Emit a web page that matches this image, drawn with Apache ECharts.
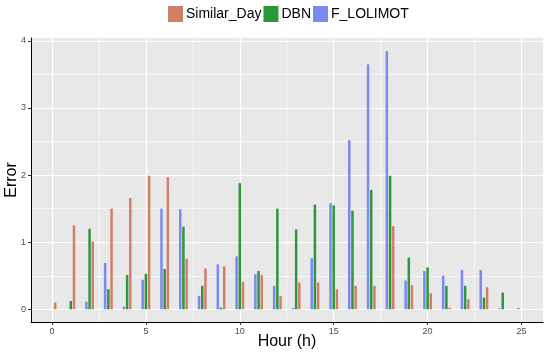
<!DOCTYPE html>
<html><head><meta charset="utf-8">
<script src="https://cdn.jsdelivr.net/npm/echarts@6/dist/echarts.min.js"></script>
<style>html,body{margin:0;padding:0;background:#fff}#c{width:550px;height:352px}</style>
</head><body><div id="c"></div>
<script>
const hours = [0,1,2,3,4,5,6,7,8,9,10,11,12,13,14,15,16,17,18,19,20,21,22,23,24,25];
const similarDay = [0.1,1.25,1.01,1.5,1.66,1.99,1.97,0.75,0.61,0.64,0.41,0.51,0.2,0.4,0.4,0.3,0.35,0.35,1.24,0.36,0.24,0.025,0.15,0.33,null,null];
const dbn = [null,0.125,1.2,0.3,0.51,0.53,0.6,1.23,0.35,0.025,1.88,0.57,1.5,1.19,1.56,1.55,1.47,1.78,1.99,0.77,0.625,0.35,0.35,0.175,0.25,null];
const fLolimot = [null,null,0.115,0.69,0.04,0.44,1.5,1.49,0.2,0.67,0.79,0.525,0.35,0.02,0.76,1.58,2.52,3.65,3.85,0.43,0.57,0.5,0.585,0.585,0.015,0.02];
const xTicks = [0,5,10,15,20,25];
const yTicks = [0,1,2,3,4];
const xMinor = [2.5,7.5,12.5,17.5,22.5];
const yMinor = [0.5,1.5,2.5,3.5];

const font = '"Liberation Sans", Arial, sans-serif';
const pairs = arr => hours.map((h,i)=> arr[i]==null ? [h,'-'] : [h,arr[i]]);

const majorStyle = {color:'#ffffff', width:1.2, type:'solid'};
const minorStyle = {color:'#ffffff', width:0.6, type:'solid'};
const gridMarks = []
  .concat(xMinor.map(v=>({xAxis:v, lineStyle:minorStyle})))
  .concat(yMinor.map(v=>({yAxis:v, lineStyle:minorStyle})))
  .concat(xTicks.map(v=>({xAxis:v, lineStyle:majorStyle})))
  .concat(yTicks.map(v=>({yAxis:v, lineStyle:majorStyle})));

const chart = echarts.init(document.getElementById('c'));
chart.setOption({
  animation:false,
  textStyle:{fontFamily:font},
  legend:{
    top:6, left:168, padding:0, itemWidth:15, itemHeight:16, itemGap:2,
    icon:'rect',
    data:['Similar_Day','DBN','F_LOLIMOT'],
    textStyle:{fontSize:14, color:'#000', fontFamily:font, padding:[0,0,0,-2]}
  },
  grid:{left:31, right:7, top:38, bottom:30, show:true, backgroundColor:'#E8E8E8', borderWidth:0, outerBoundsMode:'none', containLabel:false},
  xAxis:{
    type:'value', min:-1.118, max:26.145,
    name:'Hour (h)', nameLocation:'middle', nameGap:12, nameMoveOverlap:false,
    nameTextStyle:{fontSize:16, color:'#000', fontFamily:font},
    axisLine:{show:true, onZero:false, lineStyle:{color:'#000', width:1}},
    axisTick:{show:true, customValues:xTicks, length:3, lineStyle:{color:'#333'}},
    axisLabel:{customValues:xTicks, fontSize:9, color:'#4D4D4D', margin:5},
    splitLine:{show:false}
  },
  yAxis:{
    type:'value', min:-0.189, max:4.043,
    name:'Error', nameLocation:'middle', nameGap:11, nameRotate:90, nameMoveOverlap:false,
    nameTextStyle:{fontSize:16, color:'#000', fontFamily:font},
    axisLine:{show:true, onZero:false, lineStyle:{color:'#000', width:1}},
    axisTick:{show:true, customValues:yTicks, length:3, lineStyle:{color:'#333'}},
    axisLabel:{customValues:yTicks, fontSize:9, color:'#4D4D4D', margin:5},
    splitLine:{show:false}
  },
  series:[
    {name:'gridlines', type:'line', data:[], silent:true, z:0, legendHoverLink:false,
     markLine:{silent:true, symbol:['none','none'], z:0, label:{show:false}, animation:false, data:gridMarks}},
    {name:'F_LOLIMOT', type:'bar', data:pairs(fLolimot), barWidth:2.5, barGap:'28%', z:3, itemStyle:{color:'#7B8AF2'}},
    {name:'DBN', type:'bar', data:pairs(dbn), barWidth:2.5, barGap:'28%', z:3, itemStyle:{color:'#2F963C'}},
    {name:'Similar_Day', type:'bar', data:pairs(similarDay), barWidth:2.5, barGap:'28%', z:3, itemStyle:{color:'#D27F69'}}
  ]
});
</script></body></html>
